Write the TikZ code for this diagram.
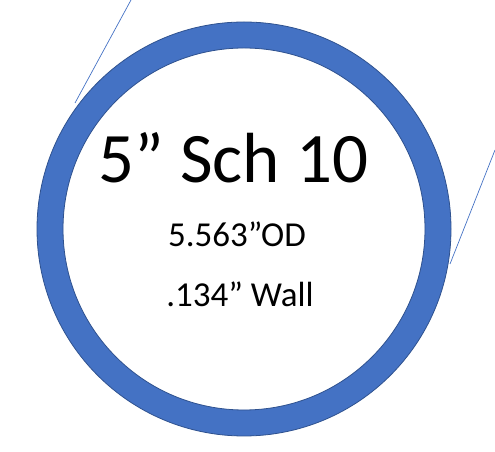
\documentclass[tikz,border=0pt]{standalone}
\usepackage{fontspec}
\setmainfont{Carlito}
\definecolor{pipeblue}{HTML}{4472C4}
\definecolor{pipeedge}{HTML}{2F528F}
\tikzset{
  pipewall/.style = {fill = pipeblue, draw = pipeedge, line width = 0.8pt, even odd rule},
  guideline/.style = {draw = pipeblue, line width = 0.7pt},
  bigtitle/.style = {anchor = base, inner sep = 0pt, font = \fontsize{71}{75}\selectfont},
  spec/.style = {anchor = base, inner sep = 0pt, font = \fontsize{35}{39}\selectfont}
}
\begin{document}
\begin{tikzpicture}[x = 1pt, y = 1pt]
        \useasboundingbox (0,0) rectangle (495,452);

        % pipe cross section
        \coordinate (c) at (244,223);
        \path[pipewall] (c) circle [radius = 207] (c) circle [radius = 181];

        % labels
        \node[bigtitle] (size) at (233.5,269) {5” Sch 10};
        \node[spec] (od) at (237,205) {5.563”OD};
        \node[spec] (wall) at (240,145) {.134” Wall};

        % stray lines
        \coordinate (la) at (131,452);
        \coordinate (lb) at (75,349);
        \coordinate (ra) at (495,302);
        \coordinate (rb) at (450,188);
        \draw[guideline] (la) -- (lb);
        \draw[guideline] (ra) -- (rb);
      \end{tikzpicture}
\end{document}
